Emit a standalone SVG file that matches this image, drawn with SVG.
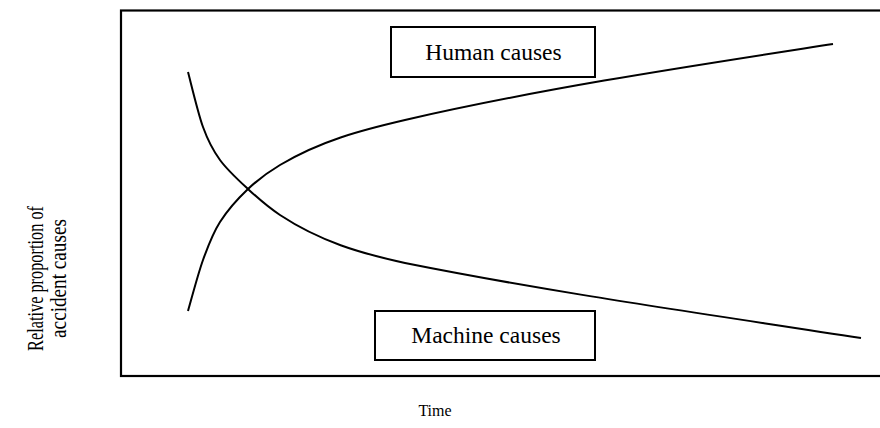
<svg xmlns="http://www.w3.org/2000/svg" width="880" height="428" viewBox="0 0 880 428">
<style>
.t{font-family:"Liberation Serif","Times New Roman",serif;fill:#000}
.box{fill:#fff;stroke:#000;stroke-width:2}
.curve{fill:none;stroke:#000;stroke-width:2}
</style>
<rect x="0" y="0" width="880" height="428" fill="#fff"/>
<g id="frame"><rect x="121" y="10.5" width="770" height="365.5" fill="none" stroke="#000" stroke-width="2.2"/></g>
<g id="connectors">
<path id="human-curve" class="curve" d="M188,311 C190.5,302.5 197.7,274.8 203,260 C208.3,245.2 212.5,233.8 220,222 C227.5,210.2 238,198.5 248,189 C258,179.5 266.3,173.2 280,165 C320,141 360,130.5 405,120 C545,87.8 693,65.7 833,44"/>
<path id="machine-curve" class="curve" d="M188,72 C190.5,81.2 197.7,112.3 203,127 C208.3,141.7 212.5,149.7 220,160 C227.5,170.3 238,179.8 248,189 C258,198.2 266.3,206 280,215 C320,241.4 360,253.1 405,263 C555,293 711,314.7 861,338"/>
</g>
<g id="human">
<rect class="box" x="391" y="27" width="204" height="50"/>
<text class="t" x="493.5" y="60" font-size="23.5" text-anchor="middle">Human causes</text>
</g>
<g id="machine">
<rect class="box" x="375" y="311" width="220" height="49"/>
<text class="t" x="486" y="343" font-size="23.5" text-anchor="middle">Machine causes</text>
</g>
<g id="time"><text class="t" x="435" y="416" font-size="16" text-anchor="middle">Time</text></g>
<g id="ylabel">
<text class="t" font-size="24" text-anchor="middle" transform="translate(42.5,278.5) rotate(-90) scale(0.68,1)">Relative proportion of</text>
<text class="t" font-size="24" text-anchor="middle" transform="translate(66,278.5) rotate(-90) scale(0.8,1)">accident causes</text>
</g>
</svg>
